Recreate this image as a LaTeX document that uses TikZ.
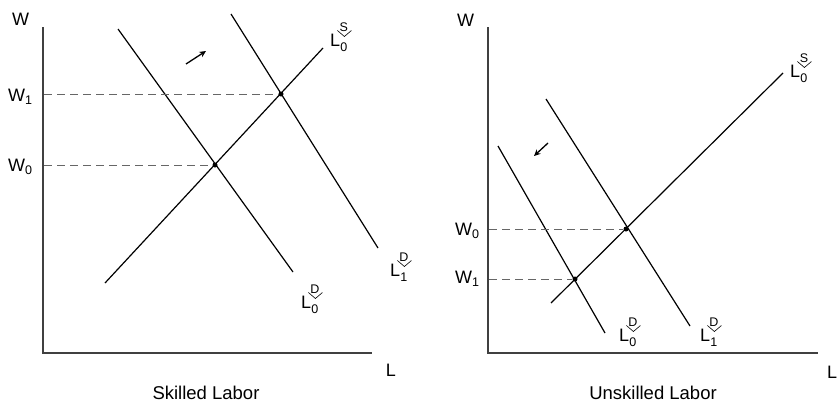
\documentclass[tikz,border=0pt]{standalone}
\usepackage{fontspec}
\setmainfont{Liberation Sans}
\usetikzlibrary{arrows.meta}
\newcommand\curvelabel[4]{%
  \node[ltxt] (#1) at (#2) {L};
  \node[smalltxt] (#1-sup) at ([xshift=3.5pt,yshift=19pt]#1.base east) {#3};
  \node[smalltxt] (#1-sub) at ([xshift=3.5pt,yshift=-1pt]#1.base east) {#4};
  \draw[chev] ([xshift=-3pt,yshift=15.5pt]#1.base east) -- ([xshift=4pt,yshift=9.5pt]#1.base east) -- ([xshift=11pt,yshift=15.5pt]#1.base east);
}
\newcommand\wsub[1]{W\raisebox{-3pt}{\fontsize{12.5}{13}\selectfont #1}}
\begin{document}
\begin{tikzpicture}[x=1pt,y=-1pt,
  axis/.style={draw=black!75, line width=1.3pt},
  curve/.style={line width=1.2pt},
  guide/.style={draw=black!60, line width=0.9pt, dash pattern=on 8pt off 5pt},
  eqdot/.style={circle, fill=black, inner sep=0pt, minimum size=5pt},
  bigtxt/.style={font=\fontsize{18}{20}\selectfont, inner sep=0pt},
  wtxt/.style={font=\fontsize{18}{20}\selectfont, inner sep=0pt, anchor=base west},
  captxt/.style={font=\fontsize{18.5}{20}\selectfont, inner sep=0pt},
  ltxt/.style={font=\fontsize{18}{20}\selectfont, inner sep=0pt, anchor=base west},
  smalltxt/.style={font=\fontsize{12.5}{13}\selectfont, inner sep=0pt},
  chev/.style={line width=0.6pt},
  shiftarrow/.style={line width=1.3pt, -{Stealth[length=6.5pt,width=6pt]}}
]
\useasboundingbox (0,0) rectangle (838,402);

% ---------------- Left panel: Skilled Labor ----------------
\coordinate (lo) at (43,353);
\coordinate (ltop) at (43,27);
\coordinate (lright) at (372,353);
\draw[axis] (ltop) -- (lo) -- (lright);
\node[bigtxt, anchor=base west] (lW) at (12,25) {W};
\node[bigtxt] (lL) at (391,370) {L};
\node[captxt] (lcap) at (206,393) {Skilled Labor};

\node[eqdot] (le0) at (215,165) {};
\node[eqdot] (le1) at (281,94) {};

\coordinate (lsA) at (105,283);
\coordinate (lsB) at (323,48);
\coordinate (ld0A) at (118,29);
\coordinate (ld0B) at (293,272);
\coordinate (ld1A) at (231,14);
\coordinate (ld1B) at (378,248);
\draw[curve] (lsA) -- (lsB);
\draw[curve] (ld0A) -- (ld0B);
\draw[curve] (ld1A) -- (ld1B);

\coordinate (lw1) at (44,94);
\coordinate (lw0) at (44,165);
\draw[guide] (lw1) -- (le1);
\draw[guide] (lw0) -- (le0);
\node[wtxt] (lW1) at (8,101) {\wsub{1}};
\node[wtxt] (lW0) at (8,171) {\wsub{0}};

\coordinate (larrA) at (186,64);
\coordinate (larrB) at (206,51);
\draw[shiftarrow] (larrA) -- (larrB);

\curvelabel{lLS}{330,46}{S}{0}
\curvelabel{lLD1}{390,276}{D}{1}
\curvelabel{lLD0}{301,308}{D}{0}

% ---------------- Right panel: Unskilled Labor ----------------
\coordinate (ro) at (488,353);
\coordinate (rtop) at (488,27);
\coordinate (rright) at (818,353);
\draw[axis] (rtop) -- (ro) -- (rright);
\node[bigtxt, anchor=base west] (rW) at (457,26) {W};
\node[bigtxt] (rL) at (832,372) {L};
\node[captxt] (rcap) at (653,393) {Unskilled Labor};

\node[eqdot] (re0) at (626,229) {};
\node[eqdot] (re1) at (575,279) {};

\coordinate (rsA) at (551,303);
\coordinate (rsB) at (783,73);
\coordinate (rd0A) at (498,146);
\coordinate (rd0B) at (605,333);
\coordinate (rd1A) at (546,99);
\coordinate (rd1B) at (690,326);
\draw[curve] (rsA) -- (rsB);
\draw[curve] (rd0A) -- (rd0B);
\draw[curve] (rd1A) -- (rd1B);

\coordinate (rw0) at (489,229);
\coordinate (rw1) at (489,279);
\draw[guide] (rw0) -- (re0);
\draw[guide] (rw1) -- (re1);
\node[wtxt] (rW0) at (455,235) {\wsub{0}};
\node[wtxt] (rW1) at (455,283) {\wsub{1}};

\coordinate (rarrA) at (548,143);
\coordinate (rarrB) at (534,156);
\draw[shiftarrow] (rarrA) -- (rarrB);

\curvelabel{rLS}{790,77}{S}{0}
\curvelabel{rLD0}{619,341}{D}{0}
\curvelabel{rLD1}{700,341}{D}{1}
\end{tikzpicture}
\end{document}
